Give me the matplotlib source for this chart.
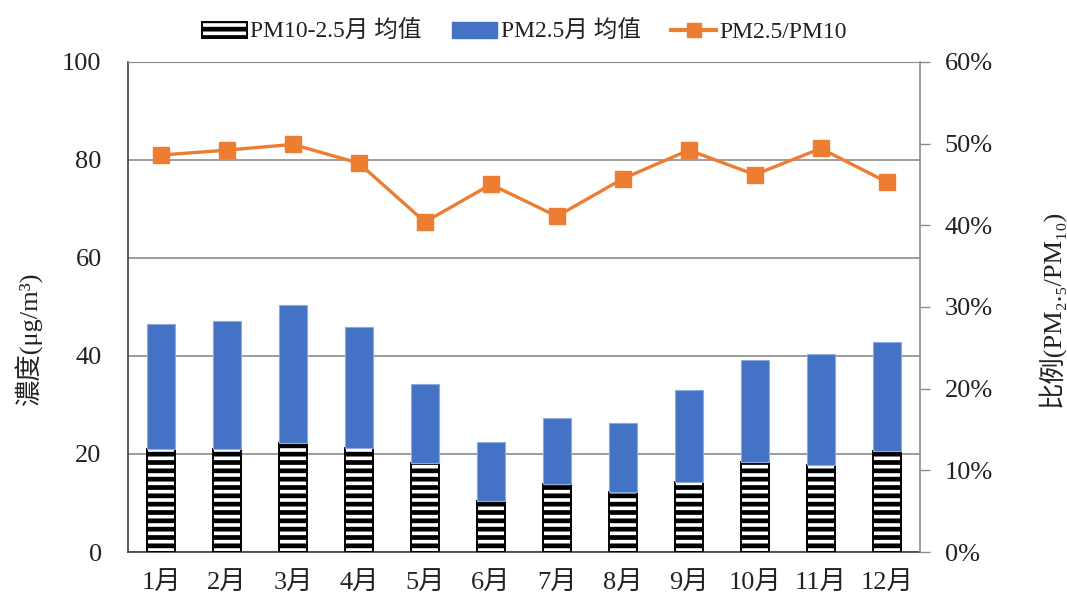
import matplotlib
matplotlib.use("Agg")
import matplotlib.pyplot as plt
from matplotlib.lines import Line2D
from matplotlib.patches import Patch
from matplotlib.ticker import PercentFormatter

plt.rcParams['font.family'] = ['Liberation Serif', 'DejaVu Serif', 'Noto Sans CJK SC']
plt.rcParams['hatch.linewidth'] = 3.4
plt.rcParams['hatch.color'] = 'black'

months = ['1月', '2月', '3月', '4月', '5月', '6月', '7月', '8月', '9月', '10月', '11月', '12月']
pm_coarse = [21.0, 21.0, 22.2, 21.3, 18.1, 10.4, 13.9, 12.2, 14.2, 18.3, 17.8, 20.6]
pm25 = [25.5, 26.1, 28.1, 24.6, 16.2, 12.1, 13.4, 14.1, 18.9, 20.8, 22.6, 22.3]
ratio = [48.6, 49.2, 49.9, 47.6, 40.4, 45.0, 41.1, 45.7, 49.2, 46.2, 49.4, 45.3]

blue = '#4472C4'
orange = '#ED7D31'
text_color = '#222222'

fig = plt.figure(figsize=(10.67, 6.01), dpi=100)
ax = fig.add_axes([0.12, 0.0815, 0.742, 0.8155])
x = range(len(months))

# coarse fraction at the bottom, fine fraction stacked on top
ax.bar(x, pm_coarse, width=0.42, color='white', edgecolor='black', hatch='--',
       linewidth=1.4, zorder=3)
ax.bar(x, pm25, width=0.42, bottom=pm_coarse, color=blue, edgecolor='#8eaadc',
       linewidth=0.8, zorder=3)

ax.set_xlim(-0.5, 11.5)
ax.set_ylim(0, 100)
ax.set_yticks(range(0, 101, 20))
ax.set_xticks(list(x))
ax.set_xticklabels(months)
ax.grid(axis='y', color='#8c8c8c', linewidth=1.2, zorder=0)
ax.tick_params(axis='x', labelsize=19, length=0, pad=14, labelcolor=text_color)
ax.tick_params(axis='y', labelsize=19, length=0, pad=19, labelcolor=text_color)
for side in ['left', 'bottom']:
    ax.spines[side].set_color('#404040')
    ax.spines[side].set_linewidth(1.2)
ax.spines['top'].set_color('#8c8c8c')
ax.spines['right'].set_visible(False)
ax.set_ylabel('濃度(μg/m³)', fontsize=19, color=text_color)
ax.yaxis.set_label_coords(-0.107, 0.435)

ax2 = ax.twinx()
ax2.plot(x, ratio, color=orange, linewidth=2.4, marker='s', markersize=11, zorder=4)
ax2.set_ylim(0, 60)
ax2.set_yticks(range(0, 61, 10))
ax2.yaxis.set_major_formatter(PercentFormatter(decimals=0))
ax2.tick_params(axis='y', labelsize=19, length=7, width=1, color='#8c8c8c', pad=11,
                labelcolor=text_color)
ax2.spines['right'].set_color('#8c8c8c')
ax2.spines['right'].set_linewidth(1.2)
for side in ['left', 'top', 'bottom']:
    ax2.spines[side].set_visible(False)
ax2.set_ylabel('比例(PM₂.₅/PM₁₀)', fontsize=19, color=text_color)
ax2.yaxis.set_label_coords(1.148, 0.498)

handles = [
    Patch(facecolor='white', edgecolor='black', hatch='--', linewidth=1.4),
    Patch(facecolor=blue, edgecolor=blue),
    Line2D([0], [0], color=orange, linewidth=3, marker='s', markersize=10),
]
labels = ['PM10-2.5月 均值', 'PM2.5月 均值', 'PM2.5/PM10']
fig.legend(handles, labels, loc='upper center', bbox_to_anchor=(0.4916, 1.0), ncol=3,
           frameon=False, fontsize=17, handlelength=1.9, handletextpad=0.15,
           columnspacing=1.3, labelcolor=text_color)

fig.savefig('out.png', dpi=100)
